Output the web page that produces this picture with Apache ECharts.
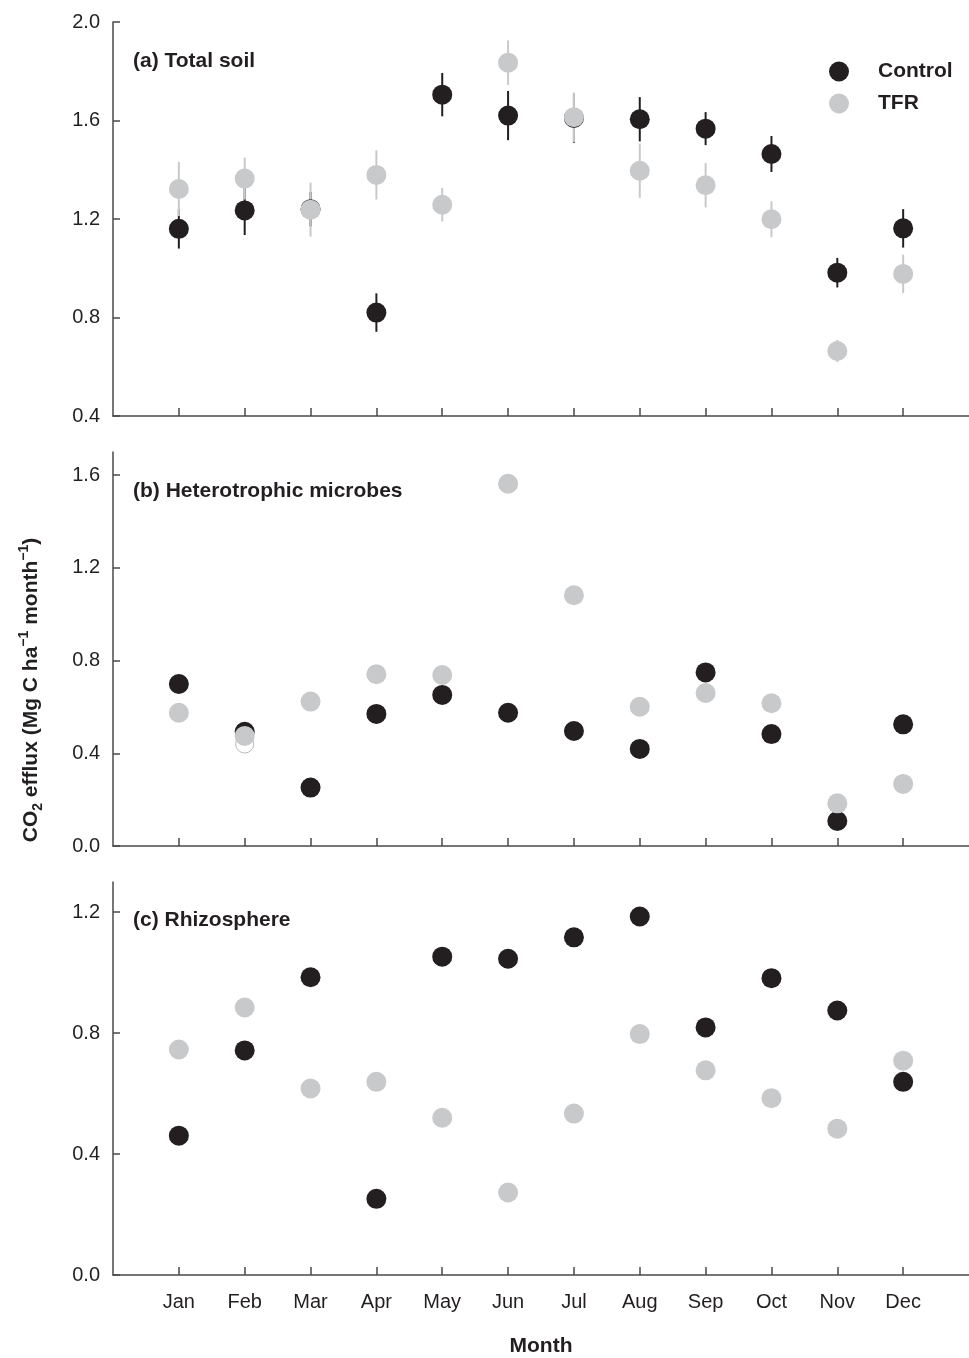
<!DOCTYPE html>
<html>
<head>
<meta charset="utf-8">
<script src="https://cdn.jsdelivr.net/npm/echarts@6/dist/echarts.min.js"></script>
<style>
  html, body { margin: 0; padding: 0; background: #fff; }
  #chart { width: 969px; height: 1358px; }
</style>
</head>
<body>
<div id="chart"></div>
<script>
const months = ["Jan", "Feb", "Mar", "Apr", "May", "Jun", "Jul", "Aug", "Sep", "Oct", "Nov", "Dec"];
const monthPos = [1, 2, 3, 4, 5, 6, 7, 8, 9, 10, 11, 12];

// (a) Total soil: mean and error
const totalControl = [1.16, 1.235, 1.24, 0.82, 1.705, 1.62, 1.61, 1.605, 1.567, 1.464, 0.982, 1.162];
const totalControlErr = [0.08, 0.1, 0.07, 0.078, 0.088, 0.1, 0.1, 0.09, 0.067, 0.073, 0.06, 0.078];
const totalTFR = [1.322, 1.364, 1.238, 1.379, 1.258, 1.835, 1.613, 1.396, 1.337, 1.199, 0.664, 0.977];
const totalTFRErr = [0.11, 0.085, 0.11, 0.1, 0.068, 0.09, 0.1, 0.11, 0.09, 0.073, 0.045, 0.078];

// (b) Heterotrophic microbes
const heteroControl = [0.699, 0.493, 0.252, 0.57, 0.652, 0.575, 0.496, 0.419, 0.749, 0.483, 0.108, 0.525];
const heteroTFR = [0.575, 0.475, 0.623, 0.741, 0.738, 1.563, 1.082, 0.601, 0.66, 0.616, 0.184, 0.268];
const heteroOpen = [[2, 0.44]];

// (c) Rhizosphere
const rhizoControl = [0.461, 0.743, 0.985, 0.252, 1.053, 1.046, 1.117, 1.186, 0.819, 0.982, 0.875, 0.639];
const rhizoTFR = [0.746, 0.885, 0.617, 0.639, 0.52, 0.273, 0.534, 0.797, 0.677, 0.585, 0.484, 0.709];

const panelTitles = ["(a) Total soil", "(b) Heterotrophic microbes", "(c) Rhizosphere"];
const yTicksA = [0.4, 0.8, 1.2, 1.6, 2.0];
const yTicksB = [0.0, 0.4, 0.8, 1.2, 1.6];
const yTicksC = [0.0, 0.4, 0.8, 1.2];

const DARK = "#231f20";
const GREY = "#c8c9cb";
const AXIS = "#4a4a4a";
const FONT = "Liberation Sans, Arial, sans-serif";

const chart = echarts.init(document.getElementById("chart"));

const pairs = (vals) => vals.map((v, i) => [monthPos[i], v]);
const errData = (vals, errs) => vals.map((v, i) => [monthPos[i], v - errs[i], v + errs[i]]);

function errorBars(vals, errs, color) {
  return {
    type: "custom",
    xAxisIndex: 0,
    yAxisIndex: 0,
    silent: true,
    encode: { x: 0, y: [1, 2] },
    data: errData(vals, errs),
    renderItem: (params, api) => {
      const lo = api.coord([api.value(0), api.value(1)]);
      const hi = api.coord([api.value(0), api.value(2)]);
      return {
        type: "line",
        shape: { x1: lo[0], y1: lo[1], x2: hi[0], y2: hi[1] },
        style: { stroke: color, lineWidth: 2 }
      };
    }
  };
}

function dots(name, idx, vals, color) {
  return {
    name: name,
    type: "scatter",
    xAxisIndex: idx,
    yAxisIndex: idx,
    symbol: "circle",
    symbolSize: 20,
    itemStyle: { color: color, opacity: 1 },
    data: pairs(vals)
  };
}

const grids = [
  { left: 113, right: 0, top: 22, height: 394 },
  { left: 113, right: 0, top: 452, height: 394 },
  { left: 113, right: 0, top: 882, height: 394 }
];

const xAxes = grids.map((g, i) => ({
  type: "value",
  gridIndex: i,
  min: 0,
  max: 13,
  interval: 1,
  splitLine: { show: false },
  axisLine: { lineStyle: { color: AXIS, width: 1.5 } },
  axisTick: { inside: true, length: 8, lineStyle: { color: AXIS, width: 1.5 }, customValues: monthPos },
  axisLabel: {
    show: i === 2,
    customValues: monthPos,
    margin: 17,
    color: DARK,
    fontSize: 20,
    fontFamily: FONT,
    formatter: (v) => months[v - 1] || ""
  },
  name: i === 2 ? "Month" : "",
  nameLocation: "middle",
  nameGap: 61,
  nameTextStyle: { color: DARK, fontSize: 21, fontWeight: "bold", fontFamily: FONT }
}));

function yAxis(i, min, max, ticks) {
  return {
    type: "value",
    gridIndex: i,
    min: min,
    max: max,
    interval: 0.4,
    splitLine: { show: false },
    axisLine: { show: true, lineStyle: { color: AXIS, width: 1.5 } },
    axisTick: { show: true, inside: true, length: 7, lineStyle: { color: AXIS, width: 1.5 }, customValues: ticks },
    axisLabel: {
      customValues: ticks,
      margin: 13,
      color: DARK,
      fontSize: 20,
      fontFamily: FONT,
      formatter: (v) => v.toFixed(1)
    }
  };
}

chart.setOption({
  animation: false,
  backgroundColor: "#fff",
  title: panelTitles.map((t, i) => ({
    text: t,
    left: 133,
    top: [51, 481, 910][i],
    padding: 0,
    textStyle: { color: DARK, fontSize: 21, fontWeight: "bold", fontFamily: FONT }
  })),
  legend: {
    data: ["Control", "TFR"],
    orient: "vertical",
    left: 824,
    top: 56,
    icon: "circle",
    itemWidth: 20,
    itemHeight: 20,
    itemGap: 11,
    selectedMode: false,
    textStyle: { color: DARK, fontSize: 21, fontWeight: "bold", fontFamily: FONT, padding: [0, 0, 0, 24] }
  },
  graphic: [{
    type: "text",
    x: 31,
    y: 690,
    rotation: Math.PI / 2,
    style: {
      text: "{m|CO}{s|2}{m| efflux (Mg C ha}{p|\u22121}{m| month}{p|\u22121}{m|)}",
      align: "center",
      verticalAlign: "middle",
      fill: DARK,
      rich: {
        m: { fontSize: 21, fontWeight: "bold", fontFamily: FONT, lineHeight: 28, fill: DARK },
        s: { fontSize: 14, fontWeight: "bold", fontFamily: FONT, lineHeight: 14, verticalAlign: "bottom", fill: DARK },
        p: { fontSize: 14, fontWeight: "bold", fontFamily: FONT, lineHeight: 14, verticalAlign: "top", fill: DARK }
      }
    }
  }],
  grid: grids,
  xAxis: xAxes,
  yAxis: [yAxis(0, 0.4, 2.0, yTicksA), yAxis(1, 0, 1.7, yTicksB), yAxis(2, 0, 1.3, yTicksC)],
  series: [
    errorBars(totalControl, totalControlErr, DARK),
    errorBars(totalTFR, totalTFRErr, GREY),
    dots("Control", 0, totalControl, DARK),
    dots("TFR", 0, totalTFR, GREY),
    {
      type: "scatter",
      xAxisIndex: 1,
      yAxisIndex: 1,
      symbol: "circle",
      symbolSize: 18,
      itemStyle: { color: "#fff", borderColor: "#a8a8a8", borderWidth: 1 },
      data: heteroOpen
    },
    dots("Control", 1, heteroControl, DARK),
    dots("TFR", 1, heteroTFR, GREY),
    dots("Control", 2, rhizoControl, DARK),
    dots("TFR", 2, rhizoTFR, GREY)
  ]
});
</script>
</body>
</html>
